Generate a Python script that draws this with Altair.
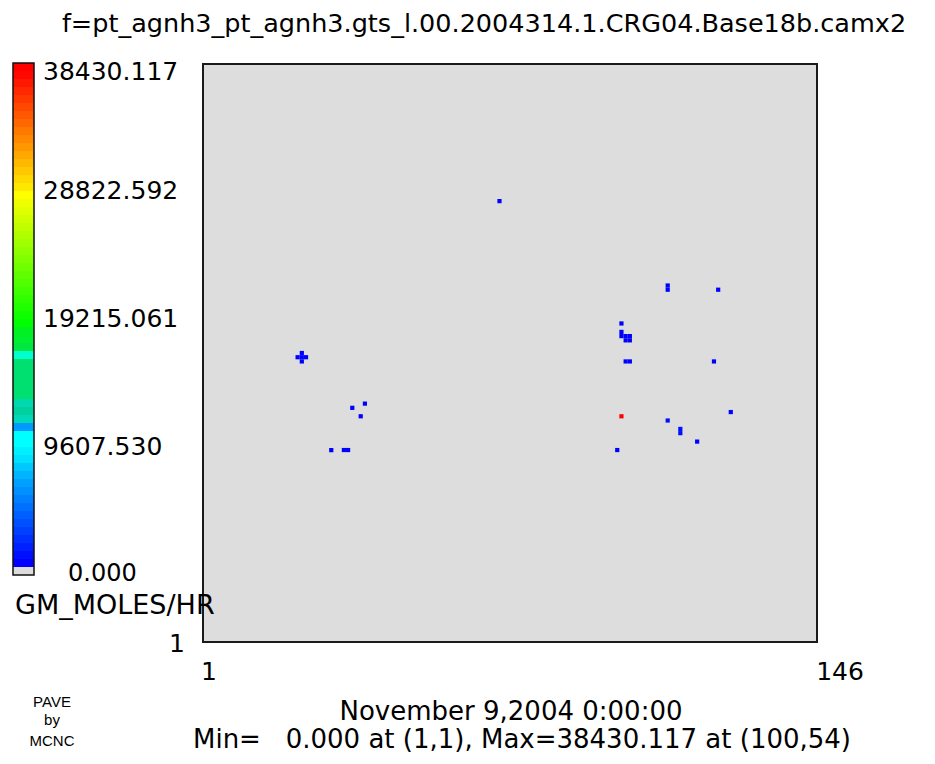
import altair as alt
import pandas as pd

# ---------------- data ----------------
title_text = "f=pt_agnh3_pt_agnh3.gts_l.00.2004314.1.CRG04.Base18b.camx2"
unit_label = "GM_MOLES/HR"
date_label = "November 9,2004 0:00:00"
minmax_label = "Min=\u00a0\u00a0 0.000 at (1,1), Max=38430.117 at (100,54)"
ncols = 146
nrows = 137
vmax = 38430.117
bar_tick_values = [0.0, 9607.530, 19215.061, 28822.592]
bar_tick_labels = ["0.000", "9607.530", "19215.061", "28822.592"]
bar_top_label = "38430.117"
x_tick_labels = ["1", "146"]
y_tick_label = "1"

# grid cells with non-zero emissions (column, row, value)
cell_col = [71, 24, 23, 25, 24, 24, 36, 39, 38, 31, 34, 35,
            111, 111, 123, 100, 100, 100, 101, 102, 101, 102,
            101, 102, 122, 100, 126, 111, 114, 114, 118, 99]
cell_row = [105, 68, 68, 68, 67, 69, 56, 57, 54, 46, 46, 46,
            84, 85, 84, 76, 73, 74, 72, 72, 73, 73,
            67, 67, 67, 54, 55, 53, 50, 51, 48, 46]
cell_val = [820, 900, 860, 880, 840, 870, 780, 760, 800, 790, 810, 830,
            950, 980, 760, 820, 900, 940, 1000, 1020, 990, 1010,
            930, 960, 780, 38430.117, 770, 1400, 1350, 1380, 800, 790]

# colour table of the legend, from the lowest band to the highest
band_colors = [
    "#dcdcdc",
    "#0000ff", "#0010ff", "#0020ff", "#0030ff", "#0040ff", "#0050ff", "#0060ff",
    "#0070ff", "#0080ff", "#0090ff", "#00a0ff", "#00b4ff", "#00c8ff",
    "#00e0ff", "#00f0ff", "#00ffff", "#00ffff",
    "#0099ff",
    "#00d8b8", "#00d0a0", "#00d8b0",
    "#00e070", "#00e070", "#00e070", "#00e070", "#00e070",
    "#00ffcc",
    "#00e840", "#00f030", "#00f020", "#00ff00",
    "#10ff00", "#20ff00", "#30ff00", "#40ff00",
    "#50ff00", "#60ff00", "#70ff00", "#80ff00",
    "#90ff00", "#a0ff00", "#b0ff00", "#c0ff00",
    "#d0ff00", "#e0ff00", "#f0ff00", "#ffff00",
    "#ffe800", "#ffd800", "#ffc800", "#ffb800",
    "#ffa800", "#ff9800", "#ff8800", "#ff7800",
    "#ff6800", "#ff5800", "#ff4800", "#ff3800",
    "#ff2800", "#ff1800", "#ff0800", "#ff0000",
]

# ---------------- tables ----------------
nb = len(band_colors)
step = vmax / nb
bands = pd.DataFrame({
    "lo": [i * step for i in range(nb)],
    "hi": [(i + 1) * step for i in range(nb)],
    "color": band_colors,
})
thresholds = [(i + 1) * step for i in range(nb - 1)]

cells = pd.DataFrame({"col": cell_col, "row": cell_row, "val": cell_val})

FONT = "DejaVu Sans"
SMALL_FONT = "Liberation Sans Narrow, Liberation Sans"
W, H = 614, 578
bar_scale = alt.Scale(domain=[0, vmax], range=[511, -1])

cell_layer = alt.Chart(cells).transform_calculate(
    x0="datum.col - 0.5", x1="datum.col + 0.5",
    y0="datum.row - 0.5", y1="datum.row + 0.5",
).mark_rect().encode(
    x=alt.X("x0:Q", scale=alt.Scale(domain=[0.5, ncols + 0.5], nice=False, zero=False), axis=None),
    x2="x1:Q",
    y=alt.Y("y0:Q", scale=alt.Scale(domain=[0.5, nrows + 0.5], nice=False, zero=False), axis=None),
    y2="y1:Q",
    color=alt.Color("val:Q", scale=alt.Scale(type="threshold", domain=thresholds, range=band_colors), legend=None),
)

bar_layer = alt.Chart(bands).mark_rect().encode(
    x=alt.value(-190), x2=alt.value(-169),
    y=alt.Y("lo:Q", scale=bar_scale, axis=None),
    y2="hi:Q",
    color=alt.Color("color:N", scale=None),
)

bar_frame = alt.Chart(pd.DataFrame({"lo": [0.0], "hi": [vmax]})).mark_rect(
    fill=None, stroke="#111111", strokeWidth=1.5
).encode(
    x=alt.value(-190), x2=alt.value(-169),
    y=alt.Y("lo:Q", scale=bar_scale, axis=None),
    y2="hi:Q",
)

ticks = pd.DataFrame({"v": bar_tick_values[1:], "t": bar_tick_labels[1:]})
bar_labels = alt.Chart(ticks).mark_text(
    align="left", baseline="middle", font=FONT, fontSize=25, color="black"
).encode(
    x=alt.value(-160),
    y=alt.Y("v:Q", scale=bar_scale, axis=None),
    text="t:N",
)
zero_label = alt.Chart(pd.DataFrame({"v": [bar_tick_values[0]], "t": [bar_tick_labels[0]]})).mark_text(
    align="left", baseline="middle", font=FONT, fontSize=24, color="black", dy=-1
).encode(
    x=alt.value(-135),
    y=alt.Y("v:Q", scale=bar_scale, axis=None),
    text="t:N",
)
top_label = alt.Chart(pd.DataFrame({"v": [vmax], "t": [bar_top_label]})).mark_text(
    align="left", baseline="top", font=FONT, fontSize=25, color="black", dy=-3
).encode(
    x=alt.value(-160),
    y=alt.Y("v:Q", scale=bar_scale, axis=None),
    text="t:N",
)


def label(txt, x, y, size=25, align="center", font=FONT):
    return alt.Chart(pd.DataFrame({"t": [txt]})).mark_text(
        align=align, baseline="middle", font=font, fontSize=size, color="black"
    ).encode(x=alt.value(x), y=alt.value(y), text="t:N")


texts = [
    label(title_text, 281, -40, 25.5),
    label(unit_label, -188, 542, 27, align="left"),
    label(y_tick_label, -26, 580, 25),
    label(x_tick_labels[0], 6, 608, 25),
    label(x_tick_labels[1], 637, 608, 25),
    label("PAVE", -151, 638, 15, font=SMALL_FONT),
    label("by", -151, 656, 15, font=SMALL_FONT),
    label("MCNC", -151, 677, 15, font=SMALL_FONT),
    label(date_label, 308, 648, 26),
    label(minmax_label, 319, 676, 26),
]

chart = alt.layer(
    cell_layer, bar_layer, bar_frame, bar_labels, zero_label, top_label, *texts
).resolve_scale(
    y="independent", x="independent"
).properties(
    width=W, height=H,
    background="white",
    autosize=alt.AutoSizeParams(type="none"),
    padding={"left": 195, "top": 56, "right": 110, "bottom": 114},
).configure_view(
    fill="#dddddd", stroke="#1a1a1a", strokeWidth=2
)

chart.save("out.html", embed_options={"renderer": "svg", "actions": False})
